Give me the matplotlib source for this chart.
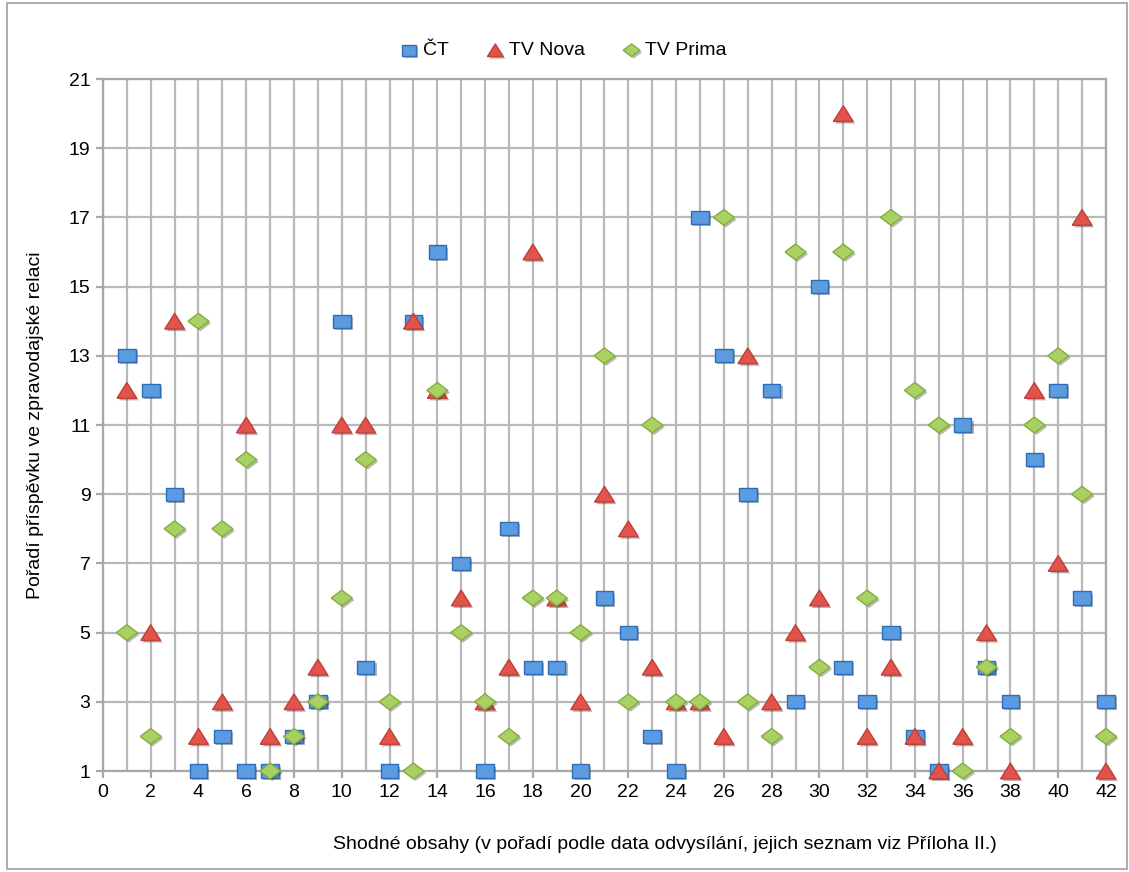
import matplotlib
matplotlib.use("Agg")
import matplotlib.pyplot as plt
import matplotlib.patheffects as pe
from matplotlib.patches import Rectangle

plt.rcParams["font.family"] = ["Liberation Sans", "DejaVu Sans"]

# data: order of item in the news broadcast for 42 shared stories
items = list(range(1, 43))
ct = [13, 12, 9, 1, 2, 1, 1, 2, 3, 14, 4, 1, 14, 16, 7, 1, 8, 4, 4, 1, 6,
      5, 2, 1, 17, 13, 9, 12, 3, 15, 4, 3, 5, 2, 1, 11, 4, 3, 10, 12, 6, 3]
nova = [12, 5, 14, 2, 3, 11, 2, 3, 4, 11, 11, 2, 14, 12, 6, 3, 4, 16, 6, 3, 9,
        8, 4, 3, 3, 2, 13, 3, 5, 6, 20, 2, 4, 2, 1, 2, 5, 1, 12, 7, 17, 1]
prima = [5, 2, 8, 14, 8, 10, 1, 2, 3, 6, 10, 3, 1, 12, 5, 3, 2, 6, 6, 5, 13,
         3, 11, 3, 3, 17, 3, 2, 16, 4, 16, 6, 17, 12, 11, 1, 4, 2, 11, 13, 9, 2]
series_names = ["ČT", "TV Nova", "TV Prima"]
yticks = list(range(1, 22, 2))
xticks = list(range(0, 43, 2))

sq = [(-1, -0.75), (1, -0.75), (1, 0.75), (-1, 0.75), (-1, -0.75)]
tri = [(-1, -0.8), (1, -0.8), (0, 0.8), (-1, -0.8)]
dia = [(-1, 0), (0, -0.75), (1, 0), (0, 0.75), (-1, 0)]

fig = plt.figure(figsize=(11.29, 8.72), dpi=100)
ax = fig.add_axes([0.0912, 0.1158, 0.8884, 0.7936])

shadow = [pe.SimplePatchShadow(offset=(1.5, -1.5), alpha=0.35), pe.Normal()]
styles = [
    (ct, sq, "#5b9be0", "#2f6db5", 160),
    (nova, tri, "#e2534c", "#c0403a", 200),
    (prima, dia, "#a9d062", "#86ad3f", 230),
]
handles = []
for vals, mk, fc, ec, s in styles:
    h = ax.scatter(items, vals, marker=mk, s=s, facecolor=fc, edgecolor=ec,
                   linewidth=1.0, zorder=3, clip_on=False)
    h.set_path_effects(shadow)
    handles.append(h)

ax.set_xlim(0, 42)
ax.set_ylim(1, 21)
ax.set_xticks(xticks)
ax.set_xticks(range(0, 43), minor=True)
ax.set_yticks(yticks)
ax.grid(True, which="both", color="#b8b8b8", linewidth=1.6, zorder=0)
ax.set_axisbelow(True)
for sp in ax.spines.values():
    sp.set_color("#a8a8a8")
    sp.set_linewidth(1.6)
ax.tick_params(axis="both", which="major", labelsize=14, color="#a8a8a8",
               length=5, width=1.6, direction="out", pad=4)
ax.tick_params(axis="x", which="minor", length=0)
ax.set_ylabel("Pořadí příspěvku ve zpravodajské relaci", fontsize=14,
              labelpad=18)
fig.text(0.589, 0.031, "Shodné obsahy (v pořadí podle data odvysílání, "
         "jejich seznam viz Příloha II.)", fontsize=14, ha="center",
         va="center")

fig.legend(handles, series_names, loc="center", bbox_to_anchor=(0.497, 0.942),
           ncol=3, frameon=False, fontsize=14, handletextpad=0.0,
           handlelength=1.4, columnspacing=1.7, markerscale=0.8)

fig.patches.append(Rectangle((0.006, 0.003), 0.992, 0.994,
                             transform=fig.transFigure, fill=False,
                             edgecolor="#a0a0a0", linewidth=1.2))
fig.savefig("out.png", dpi=100)
